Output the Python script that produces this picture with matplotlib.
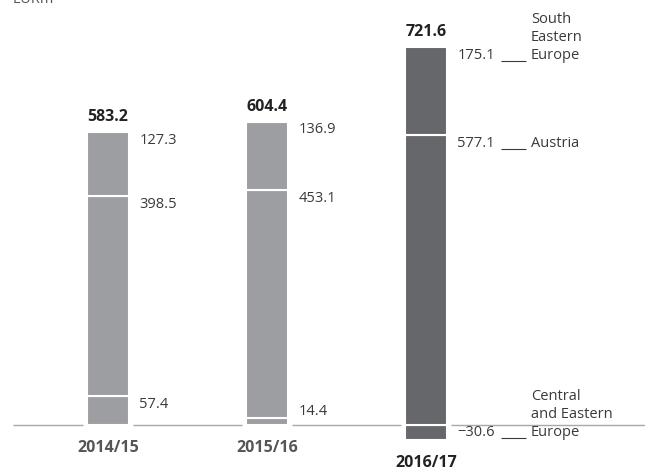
import matplotlib.pyplot as plt
import numpy as np

plt.rcParams['font.family'] = ['Open Sans', 'DejaVu Sans']

years = ['2014/15', '2015/16', '2016/17']
cee = np.array([57.4, 14.4, -30.6])
austria = np.array([398.5, 453.1, 577.1])
see = np.array([127.3, 136.9, 175.1])
totals = [583.2, 604.4, 721.6]
regions = [['Central', 'and Eastern', 'Europe'], ['Austria'], ['South', 'Eastern', 'Europe']]

light = '#9d9ea2'
dark = '#66676b'
txt = '#3a3a3a'
colors = [light, light, dark]

fig = plt.figure(figsize=(6.45, 4.71), dpi=100)
ax = fig.add_axes([0, 0, 1, 1])
ax.set_xlim(-0.679, 3.377)
ax.set_ylim(-91.6, 846.6)
ax.axis('off')

x = np.arange(len(years))
w = 0.264
gap = 0.028

# baseline with gaps around the bars
edges = [-0.6] + [v for xi in x for v in (xi - w / 2 - gap, xi + w / 2 + gap)] + [3.4]
for a, b in zip(edges[0::2], edges[1::2]):
    ax.hlines(0, a, b, color='#a8a8a8', lw=1)

base = np.maximum(cee, 0)
ax.bar(x, cee, w, color=colors, edgecolor='white', lw=1.5)
ax.bar(x, austria, w, bottom=base, color=colors, edgecolor='white', lw=1.5)
ax.bar(x, see, w, bottom=base + austria, color=colors, edgecolor='white', lw=1.5)

fs = 10.5
fsb = 11.5
lx = w / 2 + 0.065
label_y = []
for i in range(len(years)):
    tops = [cee[i], base[i] + austria[i], base[i] + austria[i] + see[i]]
    vals = [cee[i], austria[i], see[i]]
    ys = []
    for t, v in zip(tops, vals):
        s = f'{v:.1f}'.replace('-', '\u2212')
        yc = v / 2 if v < 0 else max(t - 16, 26)
        ys.append(yc)
        ax.text(x[i] + lx, yc, s, ha='left', va='center', fontsize=fs, color=txt)
    label_y.append(ys)
    ax.text(x[i], tops[2] + 30, f'{totals[i]:.1f}', ha='center', va='center',
            fontsize=fsb, fontweight='bold', color='#222222')
    ax.text(x[i], min(cee[i], 0) - 46, years[i], ha='center', va='center',
            fontsize=fsb, fontweight='bold', color='#555555' if i < 2 else '#222222')

# region labels for last bar
i = 2
for yc, lines in zip(label_y[i], regions):
    ax.hlines(yc - 11, x[i] + 0.47, x[i] + 0.63, color=txt, lw=0.8)
    for k, line in enumerate(reversed(lines)):
        ax.text(x[i] + 0.66, yc + k * 36, line, ha='left', va='center',
                fontsize=fs, color=txt)

# unit label, mostly cut off at the top edge as in the source
fig.text(0.02, 1 - 3 / 471, 'EURm', ha='left', va='baseline', fontsize=fs, color='#555555')

fig.savefig('out.png', dpi=100)
